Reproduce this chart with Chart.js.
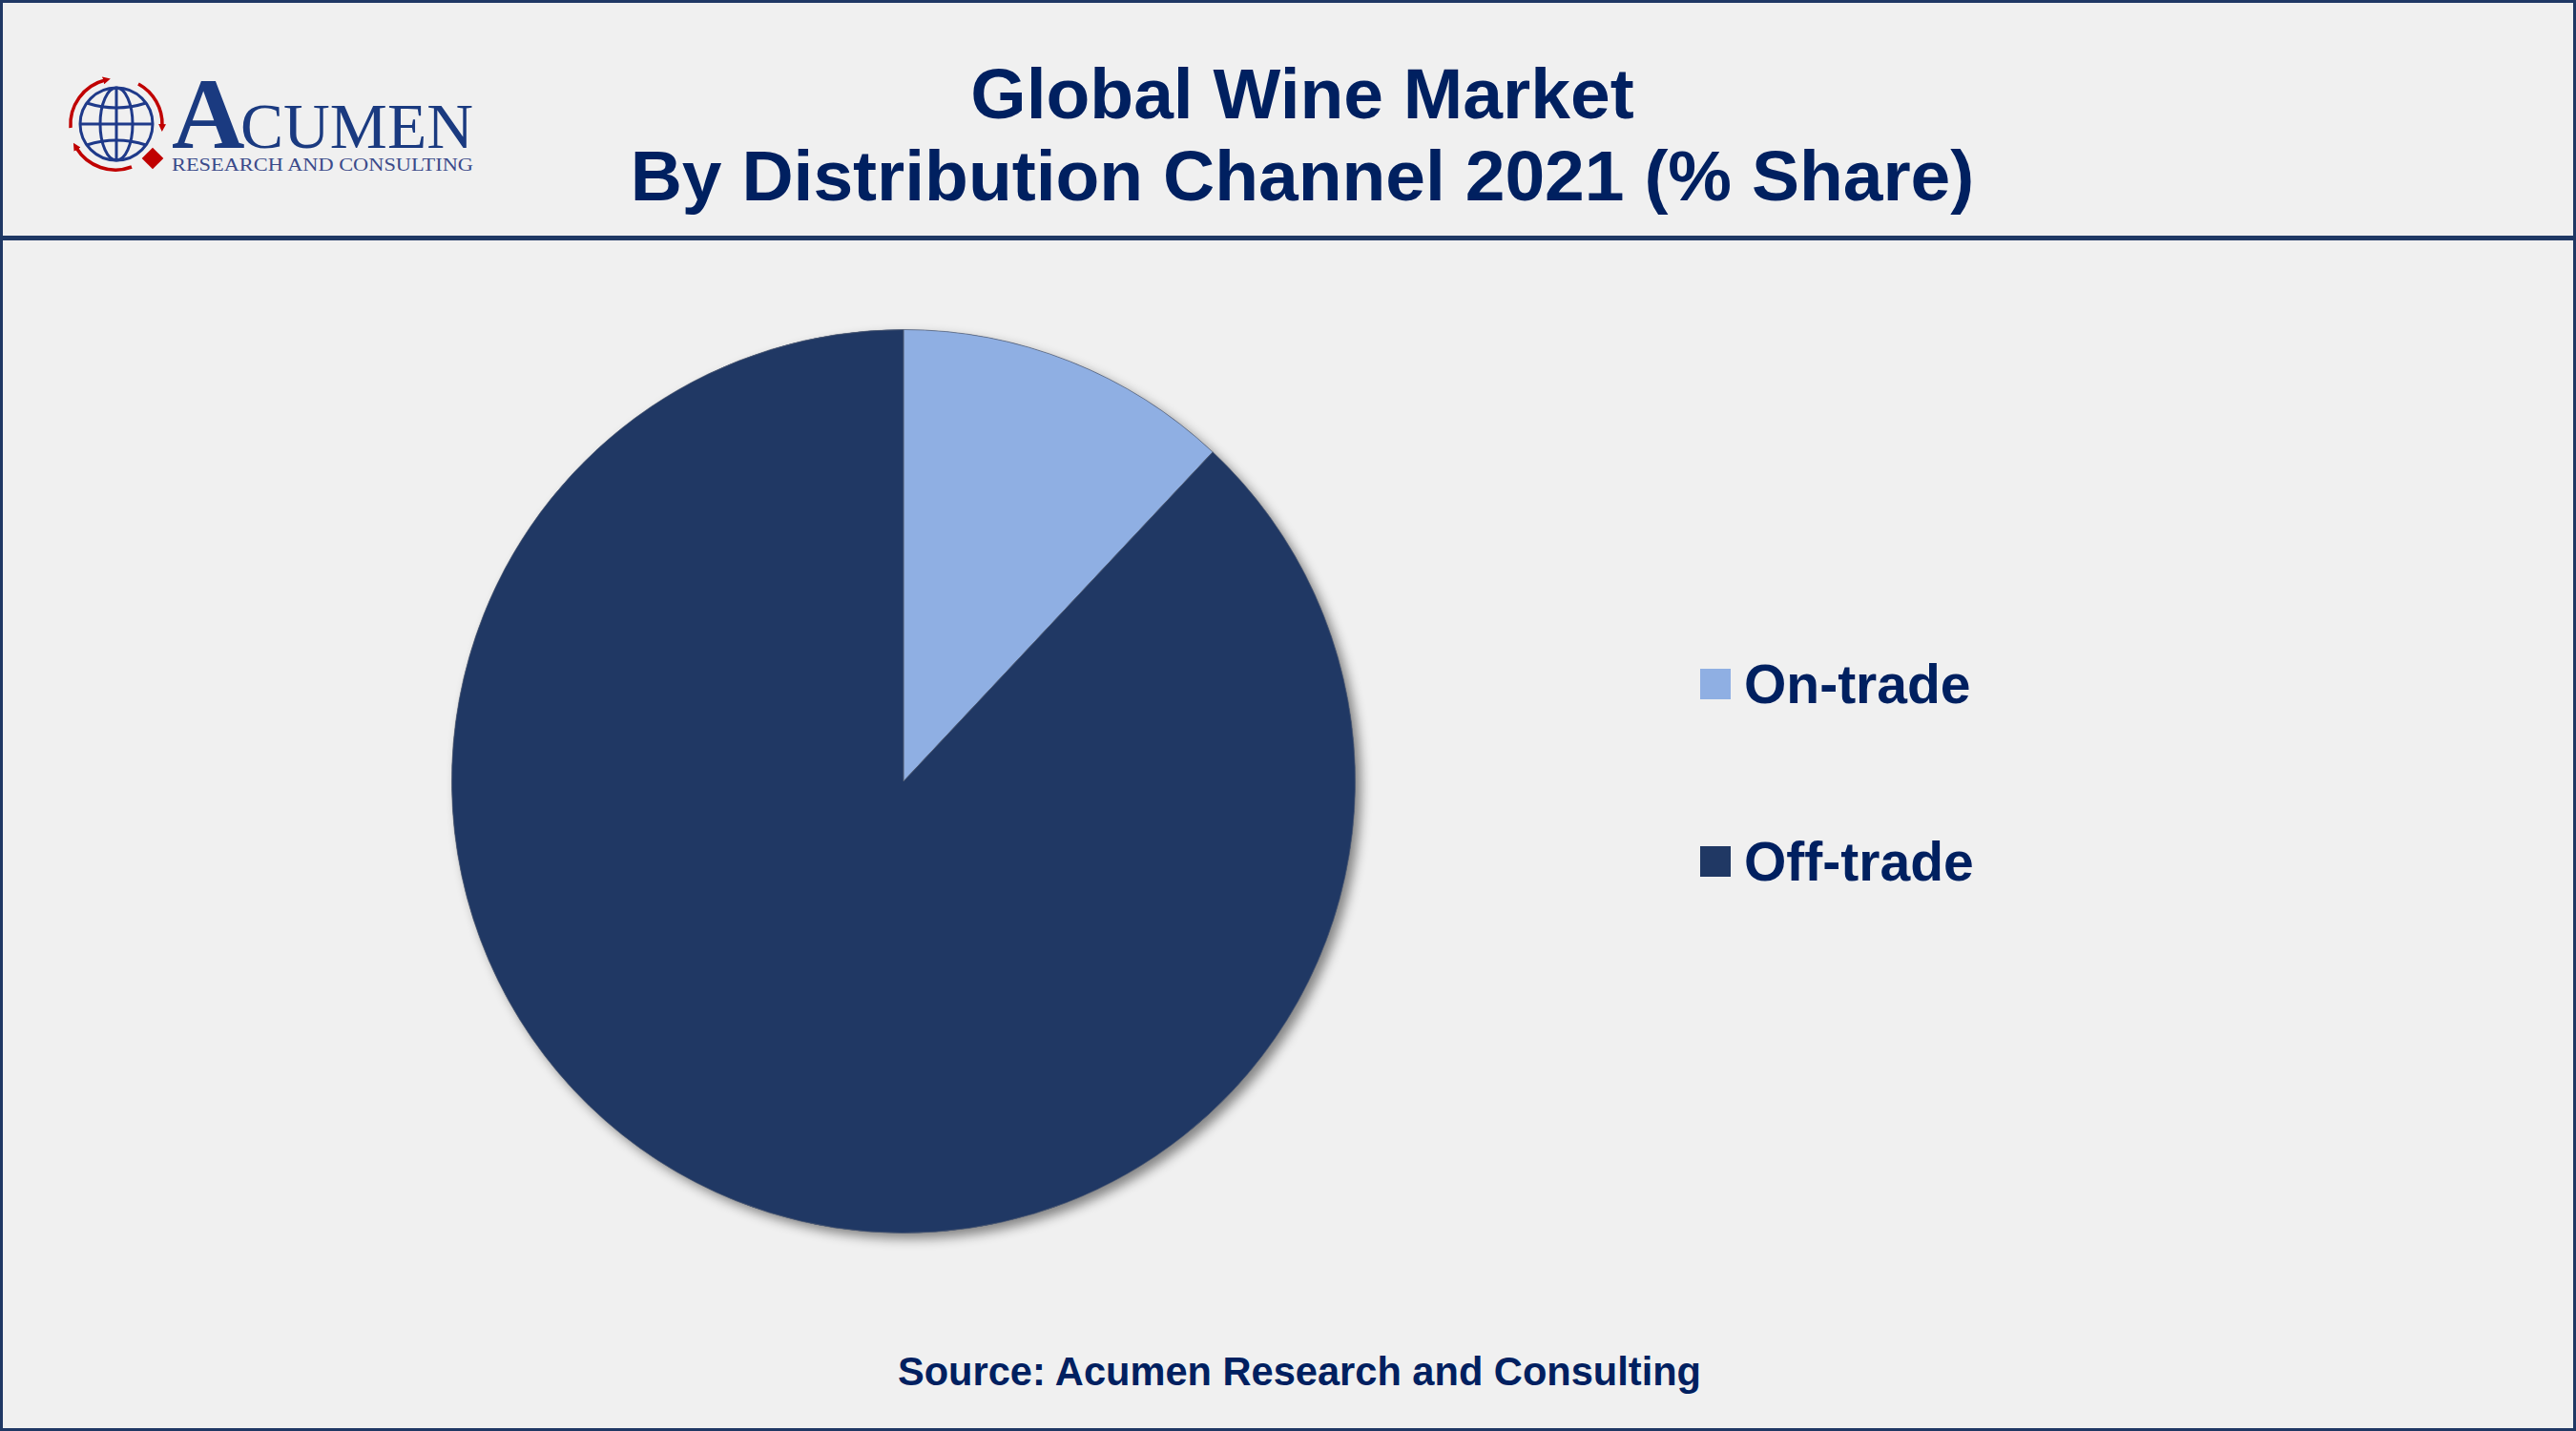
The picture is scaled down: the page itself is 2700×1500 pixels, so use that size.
<!DOCTYPE html>
<html>
<head>
<meta charset="utf-8">
<script src="https://cdn.jsdelivr.net/npm/chart.js@4"></script>
<style>
  html, body { margin: 0; padding: 0; }
  body { width: 2700px; height: 1500px; background: #f0f0f0; position: relative; overflow: hidden; font-family: "Liberation Sans", Arial, Helvetica, sans-serif; }
  .frame { position: absolute; left: 0; top: 0; width: 2694px; height: 1494px; border: 3px solid #1f3864; }
  .rule { position: absolute; left: 0; top: 247px; width: 2700px; height: 5px; background: #1f3864; }
  .title { position: absolute; left: 0; width: 2730px; text-align: center; color: #002060; font-weight: bold; font-size: 75px; line-height: 86px; top: 55px; }
  .source { position: absolute; left: 0; width: 2724px; text-align: center; color: #002060; font-weight: bold; font-size: 41.6px; top: 1414px; }
  #wrap { position: absolute; left: 0; top: 260px; width: 2700px; height: 1120px; }
  #legend { position: absolute; left: 1782px; top: 0; }
  .item { position: absolute; left: 0; white-space: nowrap; color: #002060; font-weight: bold; font-size: 57px; display: flex; align-items: center; height: 60px; }
  .item span.box { width: 32px; height: 32px; display: inline-block; margin-right: 14px; }
  .logo { position: absolute; left: 60px; top: 60px; }
</style>
</head>
<body>
<div class="frame"></div>
<div class="rule"></div>

<svg class="logo" width="460" height="140" viewBox="60 60 460 140">
  <defs>
    <marker id="arr" markerWidth="8" markerHeight="8" refX="2" refY="4" orient="auto" markerUnits="userSpaceOnUse">
      <path d="M 0 0 L 8 4 L 0 8 Z" fill="#c00000"/>
    </marker>
  </defs>
  <g fill="none" stroke="#c00000" stroke-width="3.5" marker-end="url(#arr)">
    <path d="M 74 134 A 48 48 0 0 1 110 84" />
    <path d="M 145 88 A 48 48 0 0 1 170 132" />
    <path d="M 138 175 A 48 48 0 0 1 80 155" />
  </g>
  <g fill="none" stroke="#1f3a8a" stroke-width="3">
    <circle cx="122" cy="130" r="38"/>
    <ellipse cx="122" cy="130" rx="17" ry="38"/>
    <line x1="122" y1="92" x2="122" y2="168"/>
    <line x1="84" y1="130" x2="160" y2="130"/>
    <path d="M 91 108 Q 122 118 153 108"/>
    <path d="M 91 152 Q 122 142 153 152"/>
  </g>
  <rect x="152" y="158" width="16" height="16" fill="#c00000" transform="rotate(45 160 166)"/>
  <text x="180" y="155" fill="#1a3a80" font-family="'Liberation Serif', 'DejaVu Serif', serif" font-size="106" font-weight="bold">A</text>
  <text x="252" y="155" fill="#1a3a80" font-family="'Liberation Serif', 'DejaVu Serif', serif" font-size="68" textLength="244" lengthAdjust="spacingAndGlyphs">CUMEN</text>
  <text x="180" y="179" fill="#3a4a8a" font-family="'Liberation Serif', 'DejaVu Serif', serif" font-size="19" textLength="316" lengthAdjust="spacingAndGlyphs">RESEARCH AND CONSULTING</text>
</svg>

<div class="title">Global Wine Market<br>By Distribution Channel 2021 (% Share)</div>

<div id="wrap">
  <canvas id="chartShare"></canvas>
</div>
<div id="legend"></div>

<div class="source">Source: Acumen Research and Consulting</div>

<script>
const channels = ['On-trade', 'Off-trade'];
const shares = [12, 88];
const sliceColors = ['#8fafe3', '#203864'];

// ombre portée sous le camembert
const pieShadow = {
  id: 'pieShadow',
  beforeDatasetsDraw(chart) {
    const arc = chart.getDatasetMeta(0).data[0];
    if (!arc) return;
    const ctx = chart.ctx;
    ctx.save();
    ctx.shadowColor = 'rgba(0,0,0,0.45)';
    ctx.shadowBlur = 12;
    ctx.shadowOffsetX = 6;
    ctx.shadowOffsetY = 6;
    ctx.beginPath();
    ctx.arc(arc.x, arc.y, arc.outerRadius, 0, Math.PI * 2);
    ctx.fillStyle = sliceColors[1];
    ctx.fill();
    ctx.restore();
  }
};

const ctx = document.getElementById('chartShare');
new Chart(ctx, {
  type: 'pie',
  data: {
    labels: channels,
    datasets: [{
      data: shares,
      backgroundColor: sliceColors,
      borderColor: 'rgba(90,100,120,0.7)',
      borderWidth: 1
    }]
  },
  options: {
    responsive: true,
    maintainAspectRatio: false,
    animation: false,
    layout: { padding: { left: 472, right: 1278, top: 85, bottom: 87 } },
    plugins: {
      legend: { display: false },
      tooltip: { enabled: false }
    }
  },
  plugins: [pieShadow]
});

// légende
const legend = document.getElementById('legend');
const rowsY = [687, 873];
channels.forEach((name, i) => {
  const row = document.createElement('div');
  row.className = 'item';
  row.style.top = rowsY[i] + 'px';
  row.innerHTML = '<span class="box" style="background:' + sliceColors[i] + '"></span>' + name;
  legend.appendChild(row);
});
</script>
</body>
</html>
